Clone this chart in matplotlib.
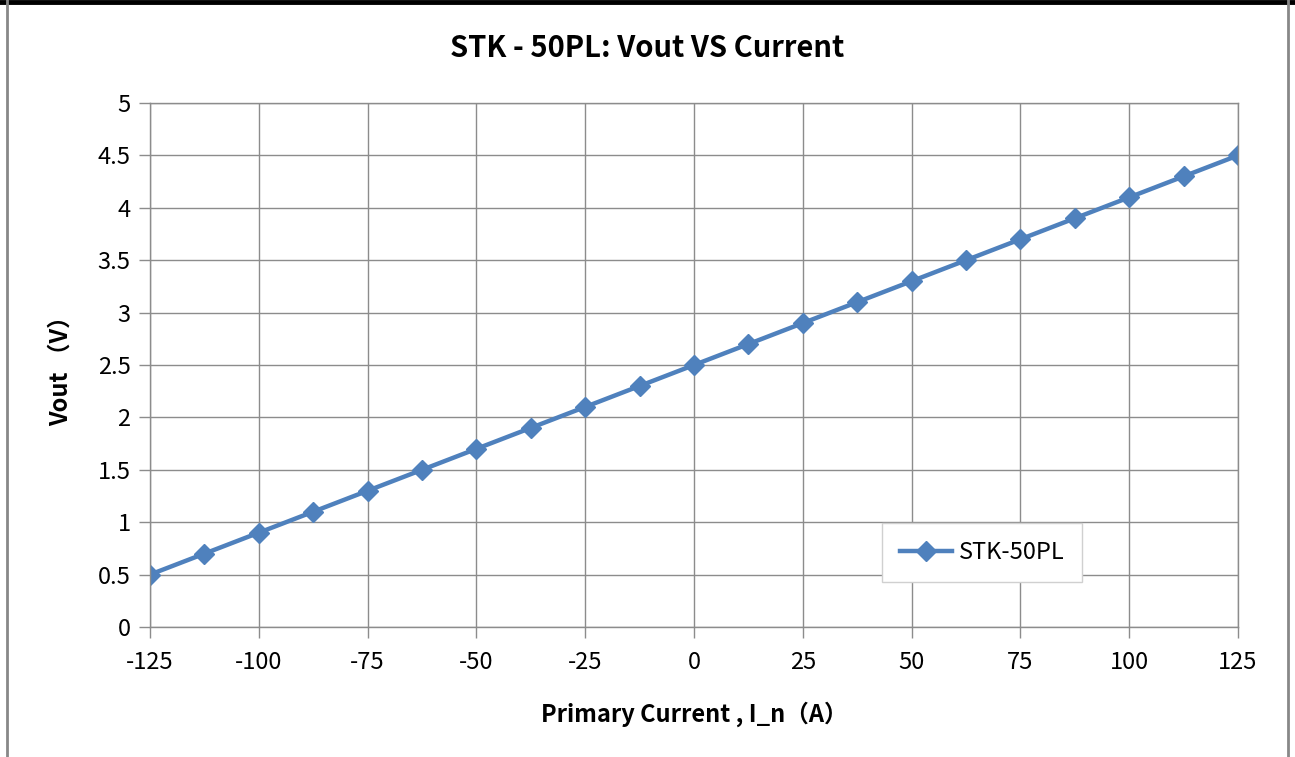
import matplotlib
matplotlib.use('Agg')
import matplotlib.pyplot as plt
from matplotlib.lines import Line2D

plt.rcParams['font.family'] = ['Noto Sans CJK SC', 'DejaVu Sans']
plt.rcParams['axes.unicode_minus'] = False

# primary current (A) and measured output voltage (V)
current = [-125, -112.5, -100, -87.5, -75, -62.5, -50, -37.5, -25, -12.5, 0,
           12.5, 25, 37.5, 50, 62.5, 75, 87.5, 100, 112.5, 125]
vout = [0.5, 0.7, 0.9, 1.1, 1.3, 1.5, 1.7, 1.9, 2.1, 2.3, 2.5,
        2.7, 2.9, 3.1, 3.3, 3.5, 3.7, 3.9, 4.1, 4.3, 4.5]
xticks = [-125, -100, -75, -50, -25, 0, 25, 50, 75, 100, 125]
yticks = [0, 0.5, 1, 1.5, 2, 2.5, 3, 3.5, 4, 4.5, 5]
ytick_labels = ['0', '0.5', '1', '1.5', '2', '2.5', '3', '3.5', '4', '4.5', '5']

fig = plt.figure(figsize=(12.95, 7.57), dpi=100)
ax = fig.add_axes([0.1158, 0.1717, 0.8402, 0.6922])

ax.plot(current, vout, color='#4F81BD', lw=3.2, marker='D', markersize=10.5,
        label='STK-50PL')

ax.set_xlim(-125, 125)
ax.set_ylim(0, 5)
ax.set_xticks(xticks)
ax.set_yticks(yticks)
ax.set_yticklabels(ytick_labels)
ax.grid(True, color='#8c8c8c', lw=1)
ax.set_axisbelow(True)
for s in ax.spines.values():
    s.set_color('#8c8c8c')
    s.set_linewidth(1)
ax.tick_params(direction='out', length=8, width=1, color='#8c8c8c',
               labelsize=17, pad=6)
ax.tick_params(axis='x', pad=9)

ax.set_xlabel('Primary Current , I_n（A）', fontsize=17, fontweight='bold',
              labelpad=20)
ax.set_ylabel('Vout （V）', fontsize=17, fontweight='bold', labelpad=18)
fig.text(0.5, 0.937, 'STK - 50PL: Vout VS Current', ha='center', va='center',
         fontsize=21, fontweight='bold')

leg = ax.legend(loc='upper left', bbox_to_anchor=(0.673, 0.198), fontsize=17,
                fancybox=False, framealpha=1, edgecolor='#d0d0d0',
                handlelength=2.2, handletextpad=0.3, borderpad=0.75,
                borderaxespad=0)
leg._legend_box.sep = 0

# outer chart border
fig.add_artist(Line2D([0, 1], [0.997, 0.997], color='black', lw=3.5,
                      transform=fig.transFigure))
fig.add_artist(Line2D([0.0055, 0.0055], [0, 1], color='#888888', lw=2,
                      transform=fig.transFigure))
fig.add_artist(Line2D([0.9945, 0.9945], [0, 1], color='#888888', lw=2,
                      transform=fig.transFigure))

fig.savefig('out.png', dpi=100)
